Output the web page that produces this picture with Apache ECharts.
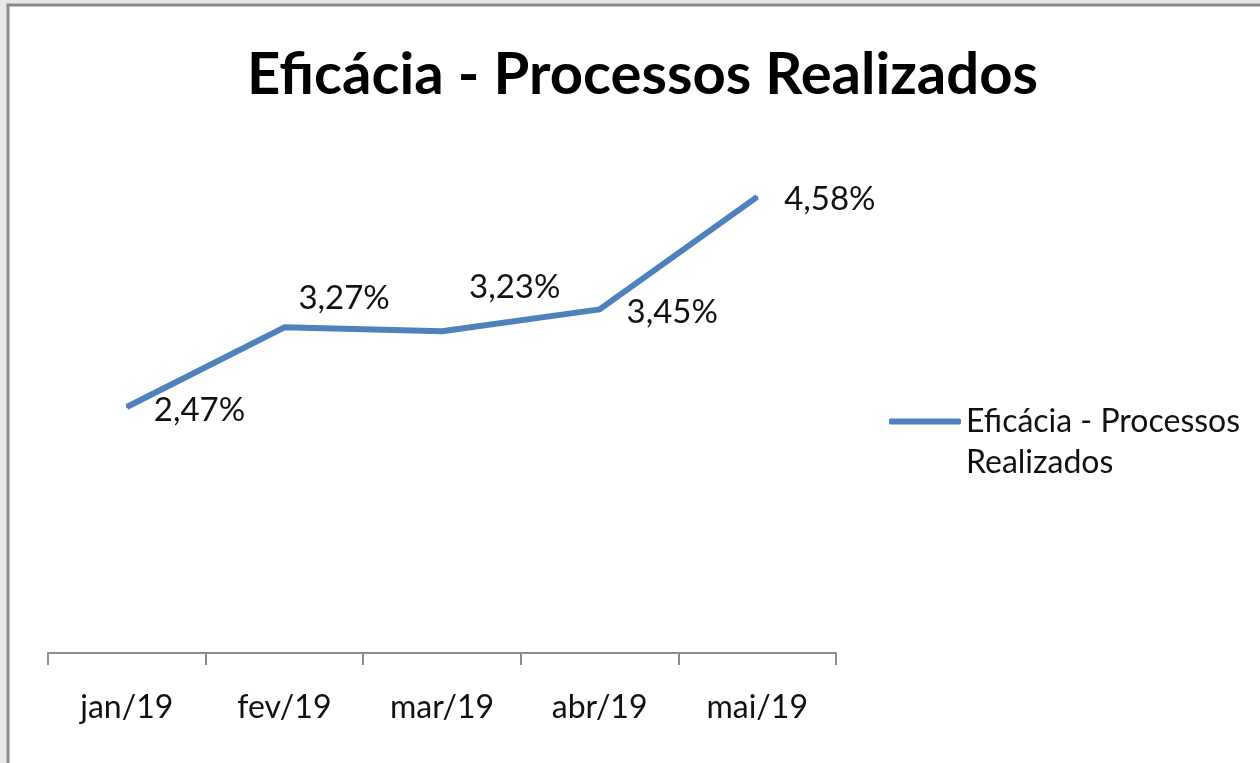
<!DOCTYPE html>
<html>
<head>
<meta charset="utf-8">
<script src="https://cdn.jsdelivr.net/npm/echarts@6/dist/echarts.min.js"></script>
<style>
html, body { margin: 0; padding: 0; background: #e9e7ea; }
#main { width: 1260px; height: 763px; }
</style>
</head>
<body>
<div id="main"></div>
<script>
var months = ['jan/19', 'fev/19', 'mar/19', 'abr/19', 'mai/19'];
var eficacia = [2.47, 3.27, 3.23, 3.45, 4.58];
var seriesName = 'Eficácia - Processos Realizados';

// label nudges, like the manual moves done in the spreadsheet
var labelNudge = [[0, 3], [-13, -29], [0, -44], [0, 3], [0, 3]];

var dom = document.getElementById('main');
var myChart = echarts.init(dom);
var option = null;

var points = eficacia.map(function (v, i) {
    return { value: v, label: { offset: labelNudge[i] } };
});

option = {
    backgroundColor: '#e9e7ea',
    textStyle: { fontFamily: 'Lato' },
    graphic: [{
        type: 'rect',
        z: -10,
        shape: { x: 8, y: 5, width: 1300, height: 800 },
        style: { fill: '#ffffff', stroke: '#8a8a8a', lineWidth: 3 }
    }],
    title: {
        text: seriesName,
        left: 242,
        top: 41,
        textStyle: { fontFamily: 'Lato', fontWeight: 'bold', fontSize: 58, color: '#000' }
    },
    legend: {
        data: [seriesName],
        left: 884,
        top: 355,
        icon: 'roundRect',
        itemWidth: 72,
        itemHeight: 6,
        itemGap: 6,
        // blank first line so the icon sits on the first text line
        formatter: function () { return '\nEficácia - Processos\nRealizados'; },
        textStyle: { fontFamily: 'Lato', fontSize: 32, color: '#111', lineHeight: 41 }
    },
    grid: { left: 48, right: 424, top: 155, bottom: 110 },
    xAxis: {
        type: 'category',
        data: months,
        boundaryGap: true,
        axisLine: { lineStyle: { color: '#8c8c8c', width: 2 } },
        axisTick: { show: true, length: 12, lineStyle: { color: '#8c8c8c', width: 2 } },
        axisLabel: { fontFamily: 'Lato', fontSize: 32, color: '#111', margin: 39 }
    },
    yAxis: {
        type: 'value',
        min: 0,
        max: 5,
        show: false,
        splitLine: { show: false }
    },
    series: [{
        name: seriesName,
        type: 'line',
        data: points,
        symbol: 'circle',
        symbolSize: 2,
        itemStyle: { color: '#4f81bd' },
        lineStyle: { color: '#4f81bd', width: 6 },
        label: {
            show: true,
            position: 'right',
            distance: 26,
            fontFamily: 'Lato',
            fontSize: 33,
            color: '#111',
            formatter: function (p) { return p.value.toFixed(2).replace('.', ',') + '%'; }
        },
        animation: false
    }]
};

if (option && typeof option === "object") {
    myChart.setOption(option, true);
}
</script>
</body>
</html>
